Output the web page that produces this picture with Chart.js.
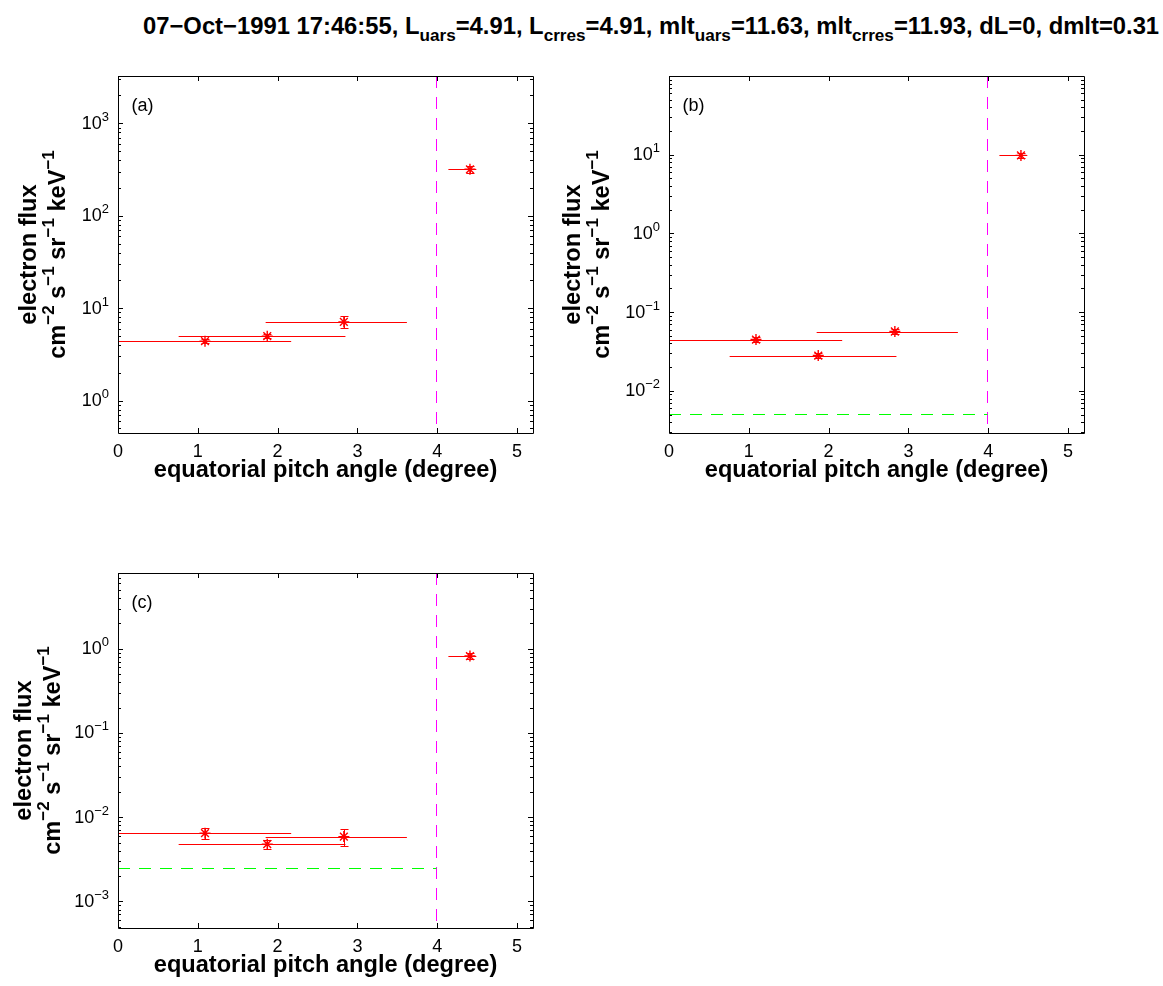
<!DOCTYPE html>
<html>
<head>
<meta charset="utf-8">
<script src="https://cdn.jsdelivr.net/npm/chart.js@4"></script>
<style>
  html, body { margin: 0; padding: 0; background: #fff; }
  #fig { position: relative; width: 1163px; height: 986px; overflow: hidden; }
  #fig canvas { position: absolute; left: 0; top: 0; }
  #title {
    position: absolute; left: 143px; top: 14px; white-space: nowrap;
    font: bold 23.8px "Liberation Sans", Arial, Helvetica, sans-serif;
    line-height: 24px; color: #000;
  }
  #title sub { font-size: 0.72em; vertical-align: -0.38em; line-height: 0; }
</style>
</head>
<body>
<div id="fig">
  <div id="title">07−Oct−1991 17:46:55, L<sub>uars</sub>=4.91, L<sub>crres</sub>=4.91, mlt<sub>uars</sub>=11.63, mlt<sub>crres</sub>=11.93, dL=0, dmlt=0.31</div>
  <canvas id="pa" width="1163" height="986"></canvas>
  <canvas id="pb" width="1163" height="986"></canvas>
  <canvas id="pc" width="1163" height="986"></canvas>
</div>
<script>
// ---- data ----------------------------------------------------------------
const xTicks = [0, 1, 2, 3, 4, 5];
const lossConeAngle = 3.98;           // magenta dashed line (degree)

// pitch-angle bins shared by all three channels
const pitchAngle   = [1.09, 1.87, 2.83, 4.41];
const pitchAngleLo = [0.00, 0.76, 1.85, 4.14];
const pitchAngleHi = [2.17, 2.85, 3.62, 4.49];

// (a)
const fluxA   = [4.39, 4.97, 7.10, 318];
const fluxALo = [4.15, 4.72, 6.13, 292];
const fluxAHi = [4.62, 5.22, 8.19, 346];
const yTicksA = [0, 1, 2, 3];          // decade exponents

// (b)
const fluxB   = [0.0449, 0.0281, 0.0568, 9.8];
const fluxBLo = [0.0415, 0.0258, 0.0525, 9.0];
const fluxBHi = [0.0485, 0.0305, 0.0615, 10.6];
const noiseB  = 0.0051;
const yTicksB = [-2, -1, 0, 1];

// (c)
const fluxC   = [0.00645, 0.00478, 0.00588, 0.819];
const fluxCLo = [0.00552, 0.00417, 0.00456, 0.745];
const fluxCHi = [0.00740, 0.00537, 0.00720, 0.895];
const noiseC  = 0.00248;
const yTicksC = [-3, -2, -1, 0];

// ---- drawing helpers -----------------------------------------------------
const FONT = '"Liberation Sans", Arial, Helvetica, sans-serif';

// rich text: parts = [[text, 'n'|'sup']], drawn left-to-right from x0 on baseline y
function richWidth(ctx, parts, size, weight) {
  let w = 0;
  for (const [t, k] of parts) {
    ctx.font = `${weight} ${k === 'sup' ? size * 0.72 : size}px ${FONT}`;
    w += ctx.measureText(t).width;
  }
  return w;
}
function richDraw(ctx, parts, x0, y, size, weight) {
  let x = x0;
  for (const [t, k] of parts) {
    const s = k === 'sup' ? size * 0.72 : size;
    ctx.font = `${weight} ${s}px ${FONT}`;
    ctx.fillText(t, x, k === 'sup' ? y - size * 0.45 : y);
    x += ctx.measureText(t).width;
  }
}

const yTitleLine2 = [['cm', 'n'], ['−2', 'sup'], [' s', 'n'], ['−1', 'sup'],
                     [' sr', 'n'], ['−1', 'sup'], [' keV', 'n'], ['−1', 'sup']];

const crisp = v => Math.round(v) + 0.5;

const matlabAxes = {
  id: 'matlabAxes',
  beforeDatasetsDraw(chart, args, opts) {
    const ctx = chart.ctx;
    const xs = chart.scales.x, ys = chart.scales.y;
    const a = chart.chartArea;

    // dashed reference lines
    ctx.save();
    ctx.lineWidth = 1;
    ctx.setLineDash([12, 9]);
    ctx.strokeStyle = '#ff00ff';
    const xm = crisp(xs.getPixelForValue(lossConeAngle));
    ctx.beginPath();
    ctx.moveTo(xm, a.top); ctx.lineTo(xm, a.bottom);
    ctx.stroke();
    if (opts.noise !== null) {
      ctx.strokeStyle = '#00ff00';
      const yn = crisp(ys.getPixelForValue(opts.noise));
      ctx.beginPath();
      ctx.moveTo(xs.getPixelForValue(0), yn); ctx.lineTo(xm, yn);
      ctx.stroke();
    }
    ctx.restore();

    // error bars from the named arrays
    ctx.save();
    ctx.strokeStyle = '#ff0000';
    ctx.lineWidth = 1;
    const d = opts.err;
    for (let i = 0; i < d.x.length; i++) {
      const yp = crisp(ys.getPixelForValue(d.y[i]));
      ctx.beginPath();
      ctx.moveTo(xs.getPixelForValue(d.xlo[i]), yp);
      ctx.lineTo(xs.getPixelForValue(d.xhi[i]), yp);
      ctx.stroke();
      const xp = crisp(xs.getPixelForValue(d.x[i]));
      const y1 = crisp(ys.getPixelForValue(d.ylo[i])), y2 = crisp(ys.getPixelForValue(d.yhi[i]));
      ctx.beginPath();
      ctx.moveTo(xp, y1); ctx.lineTo(xp, y2);
      ctx.moveTo(xp - 4, y1); ctx.lineTo(xp + 4, y1);
      ctx.moveTo(xp - 4, y2); ctx.lineTo(xp + 4, y2);
      ctx.stroke();
    }
    ctx.restore();
  },
  afterDatasetsDraw(chart, args, opts) {
    const ctx = chart.ctx;
    const xs = chart.scales.x, ys = chart.scales.y;
    const a = chart.chartArea;
    const L = a.left, R = a.right, T = a.top, B = a.bottom;

    // box and inward ticks
    ctx.save();
    ctx.strokeStyle = '#000';
    ctx.lineWidth = 1;
    ctx.beginPath();
    ctx.rect(Math.round(L) + 0.5, Math.round(T) + 0.5, Math.round(R - L), Math.round(B - T));
    ctx.stroke();
    ctx.beginPath();
    for (const v of xTicks) {
      const p = crisp(xs.getPixelForValue(v));
      ctx.moveTo(p, B); ctx.lineTo(p, B - 5);
      ctx.moveTo(p, T); ctx.lineTo(p, T + 5);
    }
    const lo = Math.floor(Math.log10(ys.min)), hi = Math.ceil(Math.log10(ys.max));
    for (let e = lo; e <= hi; e++) {
      for (let m = 1; m <= 9; m++) {
        const v = m * Math.pow(10, e);
        if (v < ys.min || v > ys.max) continue;
        const p = crisp(ys.getPixelForValue(v));
        const len = m === 1 ? 5 : 3;
        ctx.moveTo(L, p); ctx.lineTo(L + len, p);
        ctx.moveTo(R, p); ctx.lineTo(R - len, p);
      }
    }
    ctx.stroke();

    // tick labels
    ctx.fillStyle = '#000';
    ctx.textBaseline = 'alphabetic';
    ctx.textAlign = 'left';
    ctx.font = `normal 18px ${FONT}`;
    for (const v of xTicks) {
      const t = String(v);
      const w = ctx.measureText(t).width;
      ctx.fillText(t, xs.getPixelForValue(v) - w / 2, B + 24);
    }
    for (const e of opts.yTicks) {
      const parts = [['10', 'n'], [e < 0 ? '−' + (-e) : String(e), 'sup']];
      const w = richWidth(ctx, parts, 18, 'normal');
      richDraw(ctx, parts, L - 9 - w, ys.getPixelForValue(Math.pow(10, e)) + 5.5, 18, 'normal');
    }

    // x axis title
    ctx.font = `bold 23.6px ${FONT}`;
    const xt = 'equatorial pitch angle (degree)';
    ctx.fillText(xt, (L + R) / 2 - ctx.measureText(xt).width / 2, B + 44);

    // y axis title, two rotated lines
    const cy = (T + B) / 2;
    ctx.save();
    ctx.translate(opts.yTitleX[0], cy);
    ctx.rotate(-Math.PI / 2);
    ctx.font = `bold 23.6px ${FONT}`;
    const l1 = 'electron flux';
    ctx.fillText(l1, -ctx.measureText(l1).width / 2, 0);
    ctx.restore();
    ctx.save();
    ctx.translate(opts.yTitleX[1], cy);
    ctx.rotate(-Math.PI / 2);
    const w2 = richWidth(ctx, yTitleLine2, 23.6, 'bold');
    richDraw(ctx, yTitleLine2, -w2 / 2, 0, 23.6, 'bold');
    ctx.restore();

    // panel letter
    ctx.font = `normal 18px ${FONT}`;
    ctx.fillText(opts.letter, L + 13.5, T + 34.5);
    ctx.restore();
  }
};

function makePanel(id, area, yMin, yMax, flux, fluxLo, fluxHi, yTicks, noise, letter, yTitleX) {
  const datasets = [{
    type: 'scatter',
    data: pitchAngle.map((x, i) => ({ x, y: flux[i] })),
    pointStyle: 'star', pointRadius: 5.5, borderColor: '#ff0000',
    backgroundColor: '#ff0000', borderWidth: 1.4
  }];
  return new Chart(document.getElementById(id), {
    type: 'scatter',
    data: { datasets },
    options: {
      responsive: false, animation: false, devicePixelRatio: 1,
      layout: { padding: { left: area[0], top: area[1], right: 1163 - area[2], bottom: 986 - area[3] } },
      scales: {
        x: { type: 'linear', min: 0, max: 5.2, display: false },
        y: { type: 'logarithmic', min: yMin, max: yMax, display: false }
      },
      plugins: {
        legend: { display: false }, tooltip: { enabled: false }, title: { display: false },
        matlabAxes: {
          letter, yTicks, yTitleX, noise,
          err: { x: pitchAngle, xlo: pitchAngleLo, xhi: pitchAngleHi, y: flux, ylo: fluxLo, yhi: fluxHi }
        }
      }
    },
    plugins: [matlabAxes]
  });
}

makePanel('pa', [118, 76, 533, 433], Math.pow(10, -0.351), Math.pow(10, 3.512),
          fluxA, fluxALo, fluxAHi, yTicksA, null, '(a)', [36, 65]);
makePanel('pb', [669, 76, 1084, 433], Math.pow(10, -2.535), 100,
          fluxB, fluxBLo, fluxBHi, yTicksB, noiseB, '(b)', [580, 609]);
makePanel('pc', [118, 573, 533, 928], Math.pow(10, -3.316), Math.pow(10, 0.899),
          fluxC, fluxCLo, fluxCHi, yTicksC, noiseC, '(c)', [31, 60]);
</script>
</body>
</html>
